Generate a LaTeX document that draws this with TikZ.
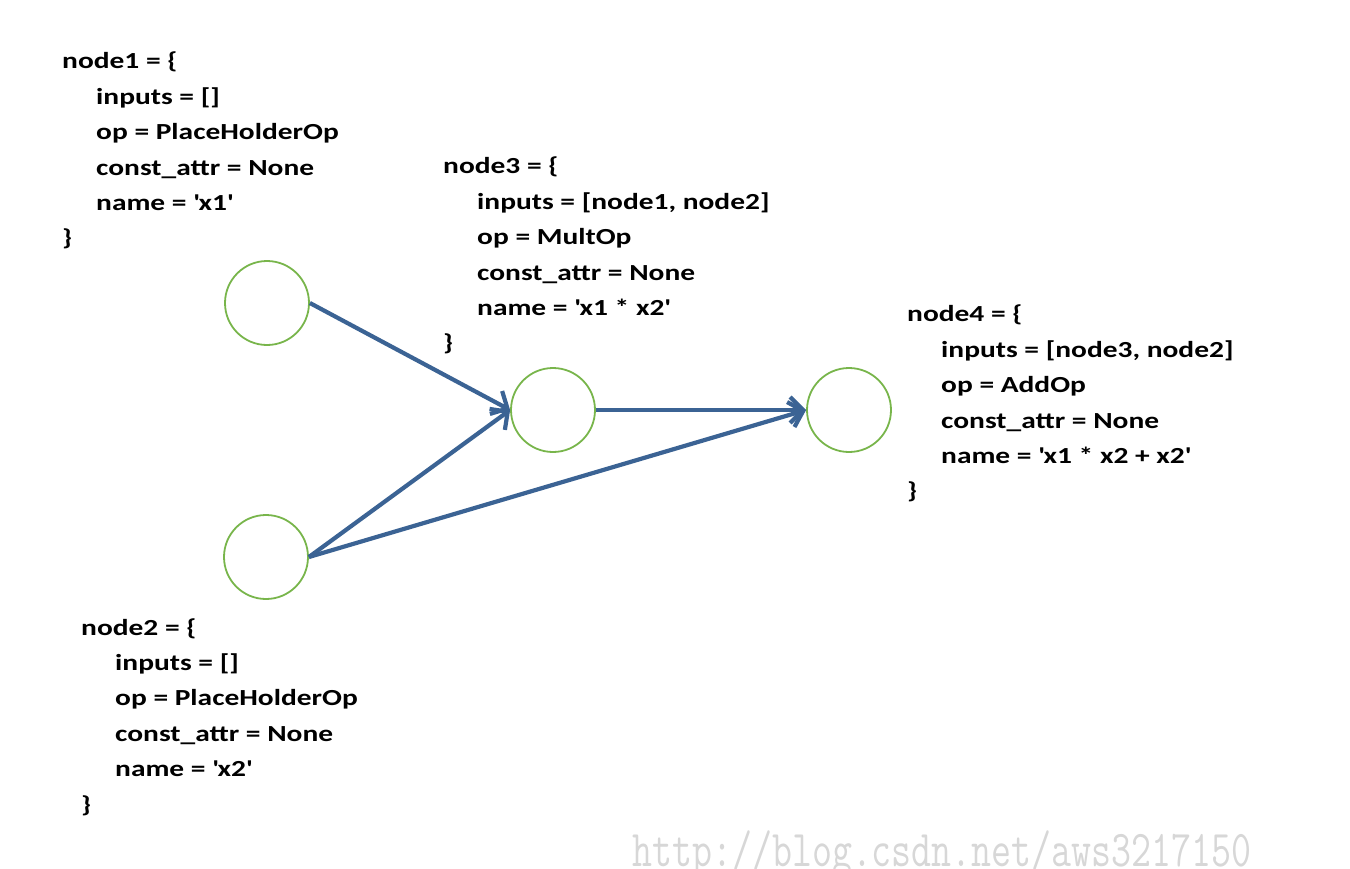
\documentclass[tikz,border=0pt]{standalone}
\usepackage{fontspec}
\setmainfont{Carlito}[FakeStretch=1.28]
\usetikzlibrary{arrows.meta}
\definecolor{ringgreen}{RGB}{120,181,75}
\definecolor{edgeblue}{RGB}{59,99,148}
\definecolor{markgray}{RGB}{215,215,215}
\tikzset{
	opnode/.style={circle, draw=ringgreen, line width=1.8pt, minimum size=84pt, inner sep=0pt},
	opedge/.style={edgeblue, line width=4.2pt, -{Straight Barb[length=13pt,width=26pt,line width=4.2pt]}},
	attrs/.style={anchor=north west, align=left, inner sep=0pt, font=\fontsize{23}{35.4}\selectfont\bfseries}
}
\newcommand{\ind}{\hspace*{34pt}}
\newcommand{\q}{\textquotesingle}
\begin{document}
\begin{tikzpicture}[x=1pt, y=-1pt]
	\useasboundingbox (0,0) rectangle (1350,868);
	\clip (0,0) rectangle (1350,868);
	% graph
	\node[opnode] (x1) at (267,303) {};
	\node[opnode] (x2) at (266,557) {};
	\node[opnode] (mul) at (553,410) {};
	\node[opnode] (add) at (849,410) {};
	\draw[opedge] (x1.east) -- (mul.west);
	\draw[opedge] (x2.east) -- (mul.west);
	\draw[opedge] (mul.east) -- (add.west);
	\draw[opedge] (x2.east) -- (add.west);
	% attributes of each node
	\node[attrs] (txt1) at (62,52) {node1 = \{\\ \ind inputs = []\\ \ind op = PlaceHolderOp\\ \ind const\_attr = None\\ \ind name = \q x1\q\\ \}};
	\node[attrs] (txt3) at (443,157) {node3 = \{\\ \ind inputs = [node1, node2]\\ \ind op = MultOp\\ \ind const\_attr = None\\ \ind name = \q x1 * x2\q\\ \}};
	\node[attrs] (txt4) at (907,305) {node4 = \{\\ \ind inputs = [node3, node2]\\ \ind op = AddOp\\ \ind const\_attr = None\\ \ind name = \q x1 * x2 + x2\q\\ \}};
	\node[attrs] (txt2) at (81,618) {node2 = \{\\ \ind inputs = []\\ \ind op = PlaceHolderOp\\ \ind const\_attr = None\\ \ind name = \q x2\q\\ \}};
	% watermark
	\node[anchor=base west, inner sep=0pt, text=markgray, font=\fontsize{38.8}{40}\selectfont\ttfamily] (mark) at (632,866) {\scalebox{1}[1.33]{http://blog.csdn.net/aws3217150}};
\end{tikzpicture}
\end{document}
